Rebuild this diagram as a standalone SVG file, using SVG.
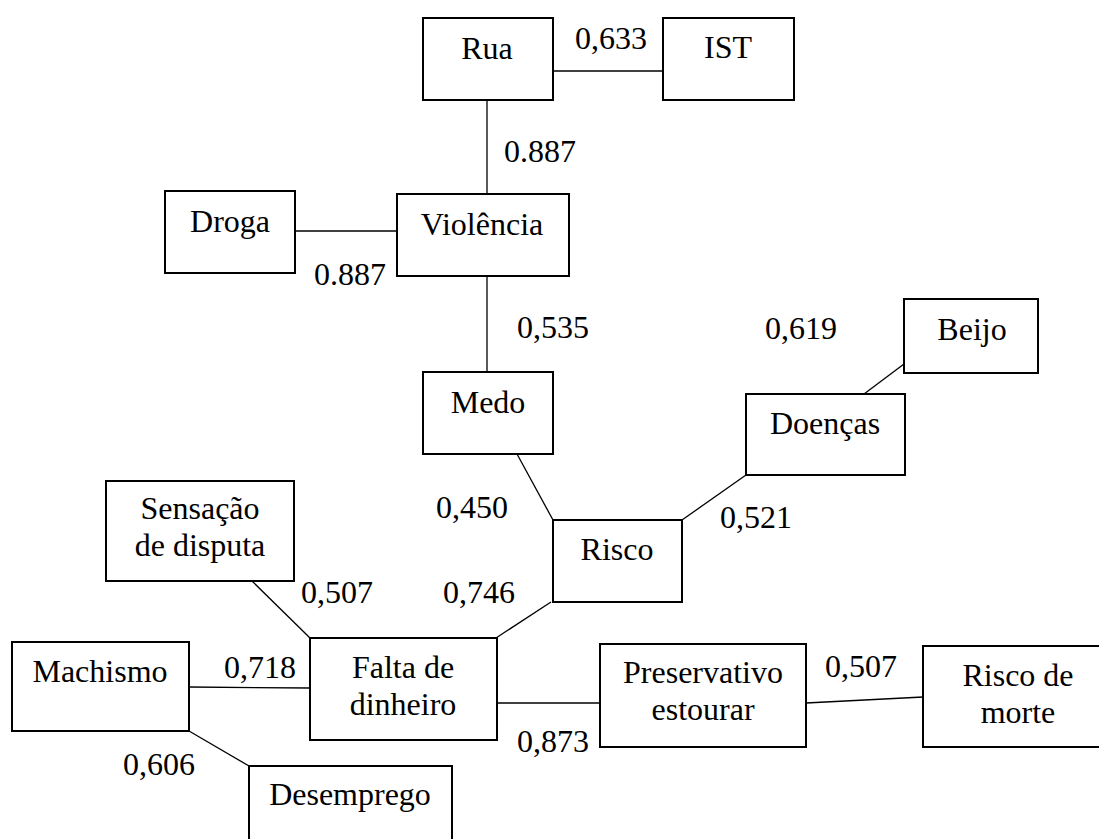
<svg xmlns="http://www.w3.org/2000/svg" width="1099" height="839" viewBox="0 0 1099 839">
<style>
.box{fill:#fff;stroke:#000;stroke-width:2}
text{font-size:32px;fill:#000}
.t{text-anchor:middle}
.c{stroke:#000;stroke-width:1.3;fill:none}
</style>
<rect width="1099" height="839" fill="#fff"/>
<g id="connectors">
<line class="c" x1="553" y1="71" x2="663" y2="71"/>
<line class="c" x1="487" y1="100" x2="487" y2="194"/>
<line class="c" x1="295" y1="231" x2="397" y2="231"/>
<line class="c" x1="487" y1="276" x2="487" y2="372"/>
<line class="c" x1="904" y1="364" x2="864" y2="394"/>
<line class="c" x1="517" y1="454" x2="553" y2="520"/>
<line class="c" x1="682" y1="520" x2="746" y2="475"/>
<line class="c" x1="252" y1="581" x2="310" y2="638"/>
<line class="c" x1="551" y1="602" x2="496" y2="638"/>
<line class="c" x1="189" y1="687" x2="310" y2="688"/>
<line class="c" x1="189" y1="731" x2="249" y2="766"/>
<line class="c" x1="497" y1="703" x2="600" y2="703"/>
<line class="c" x1="806" y1="703" x2="923" y2="697"/>
</g>
<g font-family="Liberation Serif, DejaVu Serif, Times New Roman, serif">
<g id="labels">
<text x="575" y="49">0,633</text>
<text x="504" y="162">0.887</text>
<text x="314" y="285">0.887</text>
<text x="517" y="338">0,535</text>
<text x="765" y="339">0,619</text>
<text x="436" y="518">0,450</text>
<text x="720" y="528">0,521</text>
<text x="301" y="603">0,507</text>
<text x="443" y="603">0,746</text>
<text x="224" y="678">0,718</text>
<text x="825" y="677">0,507</text>
<text x="517" y="752">0,873</text>
<text x="123" y="775">0,606</text>
</g>
<g id="rua"><rect class="box" x="423" y="18" width="130" height="82"/><text class="t" x="487" y="59">Rua</text></g>
<g id="ist"><rect class="box" x="663" y="18" width="131" height="82"/><text class="t" x="728" y="58">IST</text></g>
<g id="droga"><rect class="box" x="165" y="191" width="130" height="82"/><text class="t" x="230" y="232">Droga</text></g>
<g id="violencia"><rect class="box" x="397" y="194" width="172" height="82"/><text class="t" x="482" y="235">Violência</text></g>
<g id="medo"><rect class="box" x="423" y="372" width="130" height="82"/><text class="t" x="488" y="413">Medo</text></g>
<g id="beijo"><rect class="box" x="904" y="299" width="134" height="74"/><text class="t" x="972" y="340">Beijo</text></g>
<g id="doencas"><rect class="box" x="746" y="394" width="159" height="81"/><text class="t" x="825" y="434">Doenças</text></g>
<g id="risco"><rect class="box" x="553" y="520" width="129" height="82"/><text class="t" x="617" y="560">Risco</text></g>
<g id="sensacao"><rect class="box" x="106" y="481" width="188" height="100"/><text class="t" x="200" y="519">Sensação</text><text class="t" x="200" y="556">de disputa</text></g>
<g id="falta"><rect class="box" x="310" y="638" width="187" height="102"/><text class="t" x="403" y="678">Falta de</text><text class="t" x="403" y="715">dinheiro</text></g>
<g id="machismo"><rect class="box" x="12" y="642" width="177" height="89"/><text class="t" x="100" y="682">Machismo</text></g>
<g id="desemprego"><rect class="box" x="249" y="766" width="203" height="90"/><text class="t" x="350" y="805">Desemprego</text></g>
<g id="preservativo"><rect class="box" x="600" y="644" width="206" height="103"/><text class="t" x="703" y="683">Preservativo</text><text class="t" x="703" y="720">estourar</text></g>
<g id="riscomorte"><rect class="box" x="923" y="646" width="190" height="101"/><text class="t" x="1018" y="686">Risco de</text><text class="t" x="1018" y="723">morte</text></g>
</g>
</svg>
